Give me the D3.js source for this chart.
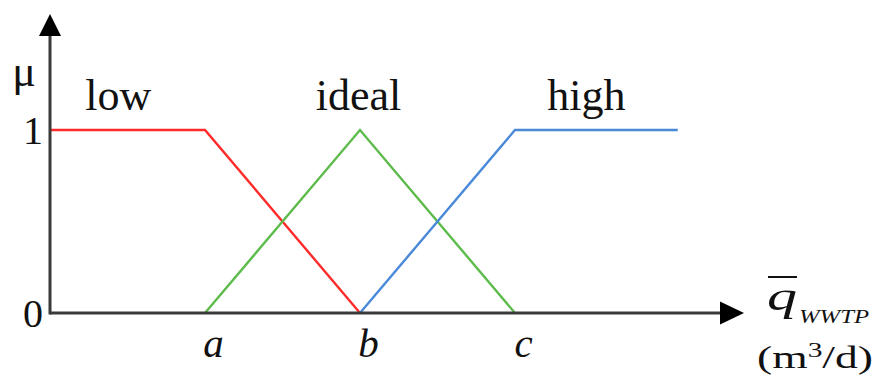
<!DOCTYPE html>
<html>
<head>
<meta charset="utf-8">
<script src="https://cdn.jsdelivr.net/npm/d3@7/dist/d3.min.js"></script>
<style>
  html, body { margin: 0; padding: 0; background: #fff; }
  svg { display: block; }
  text { font-family: "Liberation Serif", "DejaVu Serif", serif; fill: #111; }
</style>
</head>
<body>
<svg id="chart" width="879" height="378"></svg>
<script>
// Membership functions of the fuzzy sets for the average WWTP inflow
const xTicks = [1, 2, 3];
const xTickLabels = ["a", "b", "c"];
const yTicks = [0, 1];
const setNames = ["low", "ideal", "high"];
const setColors = ["#ff2b2b", "#5dbb4c", "#4a88d8"];
const lowX = [0, 1, 2];
const lowMu = [1, 1, 0];
const idealX = [1, 2, 3];
const idealMu = [0, 1, 0];
const highX = [2, 3, 4.05];
const highMu = [0, 1, 1];
const labelX = [0.44, 1.99, 3.46];

const serif = "'Liberation Serif', 'Times New Roman', serif";
const svg = d3.select("#chart");
const x = d3.scaleLinear().domain([0, 4]).range([50, 670]);
const y = d3.scaleLinear().domain([0, 1]).range([313, 130]);

// membership curves
const line = d3.line().x(d => x(d[0])).y(d => y(d[1]));
const series = [
  d3.zip(lowX, lowMu),
  d3.zip(idealX, idealMu),
  d3.zip(highX, highMu)
];
svg.selectAll("path.mf").data(series).join("path")
  .attr("class", "mf")
  .attr("d", line)
  .attr("fill", "none")
  .attr("stroke", (d, i) => setColors[i])
  .attr("stroke-width", 2.4)
  .attr("stroke-linejoin", "miter");

// axis lines with arrowheads
const axisColor = "#3a3a3a";
const x0 = x(0), y0 = y(0);
svg.append("line").attr("x1", x0).attr("y1", y0).attr("x2", 722).attr("y2", y0)
  .attr("stroke", axisColor).attr("stroke-width", 3);
svg.append("line").attr("x1", x0).attr("y1", y0 + 1.5).attr("x2", x0).attr("y2", 36)
  .attr("stroke", axisColor).attr("stroke-width", 3);
svg.append("path").attr("d", `M720,${y0 - 11.5}L744,${y0}L720,${y0 + 11.5}Z`).attr("fill", "#000");
svg.append("path").attr("d", `M${x0 - 11},36L${x0},14L${x0 + 11},36Z`).attr("fill", "#000");

// tick labels
const gx = svg.append("g").attr("transform", `translate(0,${y0})`)
  .call(d3.axisBottom(x).tickValues(xTicks).tickSize(0).tickFormat((d, i) => xTickLabels[i]));
gx.select(".domain").remove();
gx.selectAll("text")
  .attr("y", 0).attr("dy", 0).attr("transform", "translate(8,44)")
  .style("font-family", serif)
  .style("font-style", "italic")
  .style("font-size", "41px")
  .attr("fill", "#111");

const gy = svg.append("g").attr("transform", `translate(${x0},0)`)
  .call(d3.axisLeft(y).tickValues(yTicks).tickSize(0).tickFormat(d3.format("d")));
gy.select(".domain").remove();
gy.selectAll("text")
  .attr("x", -7).attr("dy", "0.33em")
  .style("font-family", serif)
  .style("font-size", "40px")
  .attr("fill", "#111");

// set names
svg.selectAll("text.setname").data(setNames).join("text")
  .attr("class", "setname")
  .attr("x", (d, i) => x(labelX[i]))
  .attr("y", 110)
  .attr("text-anchor", "middle")
  .style("font-family", serif)
  .style("font-size", "44px")
  .text(d => d);

// axis titles
svg.append("text").attr("x", 24).attr("y", 86).attr("text-anchor", "middle")
  .style("font-family", serif)
  .style("font-size", "44px").text("μ");

const qx = 767;
svg.append("text").attr("x", qx).attr("y", 310)
  .attr("textLength", 30).attr("lengthAdjust", "spacingAndGlyphs")
  .style("font-family", serif)
  .style("font-size", "42px").style("font-style", "italic").text("q");
svg.append("line").attr("x1", qx + 1).attr("x2", qx + 30).attr("y1", 277).attr("y2", 277)
  .attr("stroke", "#111").attr("stroke-width", 2);
svg.append("text").attr("x", 799).attr("y", 323)
  .attr("textLength", 70).attr("lengthAdjust", "spacingAndGlyphs")
  .style("font-family", serif)
  .style("font-size", "18px").style("font-style", "italic").text("WWTP");

const unit = svg.append("text").attr("x", 757).attr("y", 368)
  .attr("textLength", 116).attr("lengthAdjust", "spacingAndGlyphs")
  .style("font-family", serif)
  .style("font-size", "31px");
unit.append("tspan").text("(m");
unit.append("tspan").attr("dy", -11).style("font-size", "20px").text("3");
unit.append("tspan").attr("dy", 11).text("/d)");
</script>
</body>
</html>
